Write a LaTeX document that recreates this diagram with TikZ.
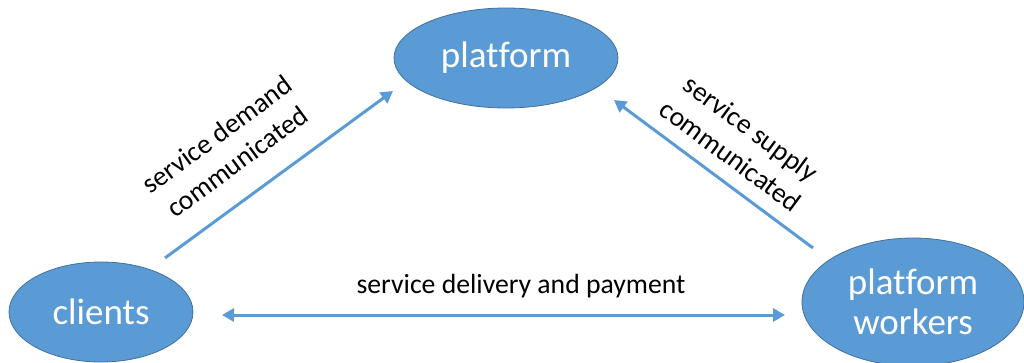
\documentclass[tikz,border=0pt]{standalone}
\usepackage{fontspec}
\setmainfont{Carlito}[Ligatures={NoCommon}]
\usetikzlibrary{shapes.geometric,arrows.meta}
\definecolor{nodefill}{HTML}{5B9BD5}
\definecolor{nodeedge}{HTML}{41719C}
\definecolor{flow}{HTML}{5B9BD5}
\begin{document}
\begin{tikzpicture}[x=1pt,y=-1pt,
  >={Triangle[length=12pt,width=13pt]},
  entity/.style={ellipse, draw=nodeedge, line width=0.8pt, fill=nodefill,
    text=white, inner sep=0pt, align=center,
    font=\fontsize{37}{43}\selectfont},
  flowline/.style={draw=flow, line width=3pt},
  flowtext/.style={font=\fontsize{27.7}{34}\selectfont, align=center, inner sep=0pt}]
  \useasboundingbox (0,0) rectangle (1024,363);

  % the three parties
  \node[entity, minimum width=224pt, minimum height=100pt] (platform) at (506,58) {platform};
  \node[entity, minimum width=184pt, minimum height=100pt] (clients) at (101,312) {clients};
  \node[entity, minimum width=222pt, minimum height=128pt] (workers) at (913,302) {platform\\[-3pt]workers};

  % arrow end points
  \coordinate (demandA) at (165,258);
  \coordinate (demandB) at (393,91);
  \coordinate (supplyA) at (813,248);
  \coordinate (supplyB) at (614,100);
  \coordinate (payA) at (222,315);
  \coordinate (payB) at (785,315);

  % flows between the parties
  \draw[flowline, ->] (demandA) -- (demandB);
  \draw[flowline, ->] (supplyA) -- (supplyB);
  \draw[flowline, <->] (payA) -- (payB);

  % flow labels
  \node[flowtext, rotate=36.3] (demandtext) at (227,148) {service demand\\communicated};
  \node[flowtext, rotate=-36.5] (supplytext) at (741,142) {service supply\\communicated};
  \node[flowtext, anchor=base] (paytext) at (521,293) {service delivery and payment};
\end{tikzpicture}
\end{document}
